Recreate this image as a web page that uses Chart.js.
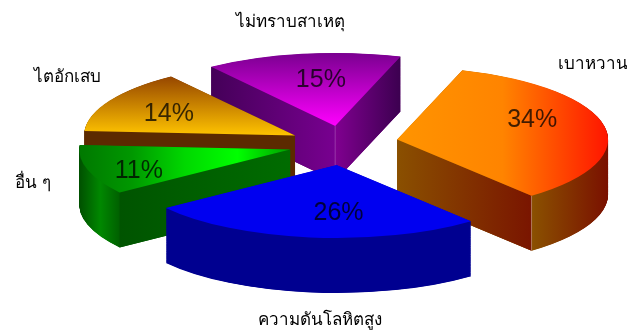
<!DOCTYPE html>
<html lang="th">
<head>
<meta charset="utf-8">
<title>สาเหตุ</title>
<style>
  html, body { margin: 0; padding: 0; background: #fff; }
  canvas { display: block; }
</style>
</head>
<body>
<canvas id="pie" width="627" height="332"></canvas>
<script src="https://cdn.jsdelivr.net/npm/chart.js@4/dist/chart.umd.js"></script>
<script>
const categories = ['เบาหวาน', 'ความดันโลหิตสูง', 'อื่น ๆ', 'ไตอักเสบ', 'ไม่ทราบสาเหตุ'];
const shares = [34, 26, 11, 14, 15];

// 3D look: the flat pie gets squashed and every slice pulled out on its own
const squash = 0.346;
const depth = 55;
const explode = [53, 67, 57, 57, 50];
const nudge = [[0, 1], [0, 0], [0, 2], [0, 3], [-2, 1]]; // px, after squashing
const paintOrder = [4, 0, 3, 2, 1]; // back to front

// gradients: [axis, stops...], a stop is a colour or [offset, colour]
const topFill = [
  ['x', '#ff9400', '#ff8400', '#ff1500'],
  ['x', '#0000f0', '#0000f0'],
  ['x', '#007800', '#009800', '#00d800', '#00ff00', '#00a000'],
  ['y', '#964600', '#ffc400'],
  ['y', '#7a0090', '#ff00ff']
];
const sideFill = [
  ['x', [0, '#8a5000'], [0.645, '#8a5000'], [1, '#7a1000']],
  ['x', '#000090', '#000090'],
  ['x', [0, '#005000'], [0.1, '#008800'], [0.2, '#005c00'], [1, '#005c00']],
  ['x', '#5c2a00', '#5c2a00'],
  ['x', '#4a005c', '#800090']
];
// straight cut faces of each slice: [start edge, end edge]
const wallFill = [
  [null, ['#8a5000', '#7a1500']],
  [null, null],
  [['#005400', '#006c00'], null],
  [['#5c2a00', '#5c2a00'], null],
  [['#440058', '#780090'], ['#800090', '#3c0050']]
];
// thin light line down a corner of the block
const cornerLine = [['end', '#c89a88'], null, null, null, ['tip', '#a850b8']];

// percent labels sit along each slice: distance (share of radius) and extra turn in degrees
const labelDist = [0.70, 0.65, 0.77, 0.67, 0.65];
const labelTurn = [-13, -8, -5, -2, 3];

const nameSpots = [[593, 64], [320, 320], [33, 183], [67, 77], [290, 22]];

function midAngle(arc) {
  return (arc.startAngle + arc.endAngle) / 2;
}

function apexOf(arc, i) {
  const a = midAngle(arc);
  return {
    x: arc.x + Math.cos(a) * explode[i] + nudge[i][0],
    y: arc.y + Math.sin(a) * explode[i] + nudge[i][1] / squash
  };
}

function makeGradient(ctx, spec, x0, y0, x1, y1) {
  const g = spec[0] === 'x' ? ctx.createLinearGradient(x0, 0, x1, 0) : ctx.createLinearGradient(0, y0, 0, y1);
  const stops = spec.slice(1);
  stops.forEach((s, n) => {
    if (Array.isArray(s)) g.addColorStop(s[0], s[1]);
    else g.addColorStop(n / (stops.length - 1), s);
  });
  return g;
}

// bounding box of the wedge, around its own tip
function wedgeBox(arc) {
  const xs = [0], ys = [0];
  for (let n = 0; n <= 40; n++) {
    const t = arc.startAngle + (arc.endAngle - arc.startAngle) * n / 40;
    xs.push(Math.cos(t) * arc.outerRadius);
    ys.push(Math.sin(t) * arc.outerRadius);
  }
  return { x0: Math.min(...xs), y0: Math.min(...ys), x1: Math.max(...xs), y1: Math.max(...ys) };
}

function drawWall(ctx, arc, tip, angle, colors, drop) {
  const ex = tip.x + Math.cos(angle) * arc.outerRadius;
  const ey = tip.y + Math.sin(angle) * arc.outerRadius;
  const g = ctx.createLinearGradient(Math.min(tip.x, ex), 0, Math.max(tip.x, ex), 0);
  g.addColorStop(0, colors[0]);
  g.addColorStop(1, colors[1]);
  ctx.fillStyle = g;
  ctx.beginPath();
  ctx.moveTo(tip.x, tip.y);
  ctx.lineTo(ex, ey);
  ctx.lineTo(ex, ey + drop);
  ctx.lineTo(tip.x, tip.y + drop);
  ctx.closePath();
  ctx.fill();
}

function drawCorner(ctx, arc, tip, spec, drop) {
  const x = spec[0] === 'end' ? tip.x + Math.cos(arc.endAngle) * arc.outerRadius : tip.x;
  const y = spec[0] === 'end' ? tip.y + Math.sin(arc.endAngle) * arc.outerRadius : tip.y;
  ctx.strokeStyle = spec[1];
  ctx.lineWidth = 1;
  ctx.beginPath();
  ctx.moveTo(x, y);
  ctx.lineTo(x, y + drop);
  ctx.stroke();
}

const pie3d = {
  id: 'pie3d',
  beforeDatasetDraw(chart) {
    const ctx = chart.ctx;
    const arcs = chart.getDatasetMeta(0).data;
    const cy = arcs[0].y;
    const drop = depth / squash;

    ctx.save();
    ctx.translate(0, cy);
    ctx.scale(1, squash);
    ctx.translate(0, -cy);

    paintOrder.forEach(i => {
      const arc = arcs[i];
      const tip = apexOf(arc, i);
      const box = wedgeBox(arc);
      const shift = { x: tip.x - arc.x, y: tip.y - arc.y };

      // stacked copies of the arc make the rim
      const rim = Object.create(arc);
      rim.options = Object.assign({}, arc.options, {
        backgroundColor: makeGradient(ctx, sideFill[i], arc.x + box.x0, arc.y + box.y0, arc.x + box.x1, arc.y + box.y1)
      });
      ctx.save();
      ctx.translate(shift.x, shift.y);
      for (let d = drop; d > 0; d -= 1) {
        ctx.save();
        ctx.translate(0, d);
        rim.draw(ctx);
        ctx.restore();
      }
      ctx.restore();

      if (wallFill[i][0]) drawWall(ctx, arc, tip, arc.startAngle, wallFill[i][0], drop);
      if (wallFill[i][1]) drawWall(ctx, arc, tip, arc.endAngle, wallFill[i][1], drop);
      if (cornerLine[i]) drawCorner(ctx, arc, tip, cornerLine[i], drop);

      // top face
      const face = Object.create(arc);
      face.options = Object.assign({}, arc.options, {
        backgroundColor: makeGradient(ctx, topFill[i], arc.x + box.x0, arc.y + box.y0, arc.x + box.x1, arc.y + box.y1)
      });
      ctx.save();
      ctx.translate(shift.x, shift.y);
      face.draw(ctx);
      ctx.restore();
    });
    ctx.restore();
    return false;
  },
  afterDraw(chart) {
    const ctx = chart.ctx;
    const arcs = chart.getDatasetMeta(0).data;
    ctx.save();
    ctx.textAlign = 'center';
    ctx.textBaseline = 'middle';

    ctx.font = '25px "Liberation Sans", Arial, sans-serif';
    ctx.fillStyle = 'rgba(0, 0, 0, 0.75)';
    arcs.forEach((arc, i) => {
      const tip = apexOf(arc, i);
      const a = midAngle(arc) + labelTurn[i] * Math.PI / 180;
      const r = arc.outerRadius * labelDist[i];
      const y = arc.y + (tip.y - arc.y) * squash + Math.sin(a) * r * squash + 1;
      ctx.fillText(shares[i] + '%', tip.x + Math.cos(a) * r, y);
    });

    ctx.font = '17px "Noto Sans", "DejaVu Sans", sans-serif';
    ctx.fillStyle = '#000';
    categories.forEach((name, i) => ctx.fillText(name, nameSpots[i][0], nameSpots[i][1]));
    ctx.restore();
  }
};

new Chart(document.getElementById('pie'), {
  type: 'pie',
  data: {
    labels: categories,
    datasets: [{ data: shares, borderWidth: 0 }]
  },
  options: {
    responsive: false,
    animation: false,
    rotation: 18,
    radius: 211,
    layout: { padding: { left: 63, bottom: 48 } },
    plugins: { legend: { display: false }, tooltip: { enabled: false } }
  },
  plugins: [pie3d]
});
</script>
</body>
</html>
